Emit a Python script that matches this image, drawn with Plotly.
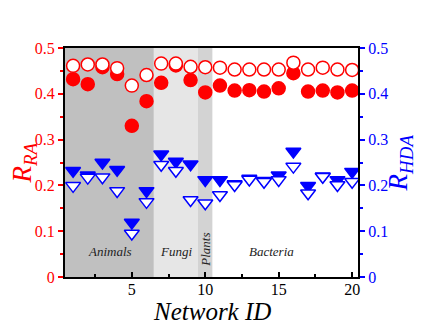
import plotly.graph_objects as go

network_id = list(range(1, 21))

# R_RA (left axis, red circles)
rra_filled = [0.432, 0.421, 0.458, 0.443, 0.330, 0.384, 0.424, 0.462, 0.430, 0.403,
              0.418, 0.407, 0.408, 0.405, 0.412, 0.445, 0.405, 0.407, 0.403, 0.407]
rra_open = [0.461, 0.464, 0.464, 0.456, 0.418, 0.441, 0.466, 0.466, 0.459, 0.458,
            0.457, 0.453, 0.453, 0.453, 0.453, 0.468, 0.453, 0.457, 0.453, 0.452]

# R_HDA (right axis, blue triangles)
rhda_filled = [0.232, 0.222, 0.250, 0.234, 0.119, 0.188, 0.268, 0.252, 0.246, 0.212,
               0.212, 0.203, 0.215, 0.210, 0.222, 0.274, 0.199, 0.220, 0.212, 0.230]
rhda_open = [0.199, 0.217, 0.218, 0.188, 0.095, 0.164, 0.245, 0.232, 0.168, 0.161,
             0.179, 0.201, 0.213, 0.208, 0.212, 0.241, 0.183, 0.219, 0.201, 0.208]

groups = ["Animals", "Fungi", "Plants", "Bacteria"]
group_start = [0.45, 6.5, 9.5, 10.5]
group_end = [6.5, 9.5, 10.5, 20.4]
group_fill = ["#c0c0c0", "#e6e6e6", "#d3d3d3", "white"]
group_label_x = [3.5, 8.0, 10.0, 14.5]

serif = "Liberation Serif, Times New Roman, DejaVu Serif, serif"

fig = go.Figure()

for x0, x1, c in zip(group_start, group_end, group_fill):
    fig.add_shape(type="rect", xref="x", yref="y", x0=x0, x1=x1, y0=0, y1=0.5,
                  fillcolor=c, line_width=0, layer="below")

fig.add_trace(go.Scatter(x=network_id, y=rra_filled, mode="markers",
                         marker=dict(symbol="circle", size=13, color="red",
                                     line=dict(color="red", width=1.5))))
fig.add_trace(go.Scatter(x=network_id, y=rra_open, mode="markers",
                         marker=dict(symbol="circle", size=13, color="white",
                                     line=dict(color="red", width=1.5))))
fig.add_trace(go.Scatter(x=network_id, y=rhda_filled, mode="markers", yaxis="y2",
                         marker=dict(symbol="triangle-down", size=13, color="blue",
                                     line=dict(color="blue", width=1.5))))
fig.add_trace(go.Scatter(x=network_id, y=rhda_open, mode="markers", yaxis="y2",
                         marker=dict(symbol="triangle-down", size=13, color="white",
                                     line=dict(color="blue", width=1.5))))

for name, gx in zip(groups, group_label_x):
    fig.add_annotation(x=gx, y=0.055 if name != "Plants" else 0.06, xref="x", yref="y",
                       text=f"<i>{name}</i>", showarrow=False,
                       textangle=-90 if name == "Plants" else 0,
                       font=dict(family=serif, size=13, color="#222"))

# axis titles as annotations so they sit where the reference has them
fig.add_annotation(x=0.503, y=-0.085, xref="paper", yref="paper", yanchor="top",
                   text="<i>Network ID</i>", showarrow=False,
                   font=dict(family=serif, size=25, color="black"))
fig.add_annotation(x=-0.14, y=0.5, xref="paper", yref="paper", textangle=-90,
                   xanchor="center", yanchor="middle",
                   text="<i>R<sub>RA</sub></i>", showarrow=False,
                   font=dict(family=serif, size=27, color="red"))
fig.add_annotation(x=1.143, y=0.5, xref="paper", yref="paper", textangle=-90,
                   xanchor="center", yanchor="middle",
                   text="<i>R<sub>HDA</sub></i>", showarrow=False,
                   font=dict(family=serif, size=27, color="blue"))

# page body has an 8px margin, so shift the plot area up/left by that much
fig.update_layout(
    width=423, height=327,
    margin=dict(l=57, r=73, t=40, b=58, autoexpand=False),
    paper_bgcolor="white", plot_bgcolor="rgba(0,0,0,0)",
    showlegend=False,
    font=dict(family=serif),
    xaxis=dict(range=[0.45, 20.4], tickvals=[5, 10, 15, 20], ticks="inside",
               ticklen=5, tickwidth=1.5, tickcolor="black", automargin=False,
               ticklabelstandoff=-3,
               minor=dict(tickvals=[2.5, 7.5, 12.5, 17.5], ticks="inside", ticklen=3, tickcolor="black"),
               showline=True, linecolor="black", linewidth=2, mirror=True,
               showgrid=False, zeroline=False,
               tickfont=dict(family=serif, size=16, color="black")),
    yaxis=dict(range=[0, 0.5], dtick=0.1, ticks="outside", ticklen=5, tickwidth=1.5,
               tickcolor="red", tickformat=".1~f", automargin=False,
               minor=dict(dtick=0.05, ticks="outside", ticklen=3, tickcolor="red"),
               showline=True, linecolor="black", linewidth=2,
               showgrid=False, zeroline=False,
               tickfont=dict(family=serif, size=16, color="red")),
    yaxis2=dict(range=[0, 0.5], dtick=0.1, overlaying="y", side="right", automargin=False,
                ticks="outside", ticklen=5, tickwidth=1.5, tickcolor="blue", tickformat=".1~f",
                minor=dict(dtick=0.05, ticks="outside", ticklen=3, tickcolor="blue"),
                showline=True, linecolor="black", linewidth=2,
                showgrid=False, zeroline=False,
                tickfont=dict(family=serif, size=16, color="blue")),
)

fig.write_html("out.html")
